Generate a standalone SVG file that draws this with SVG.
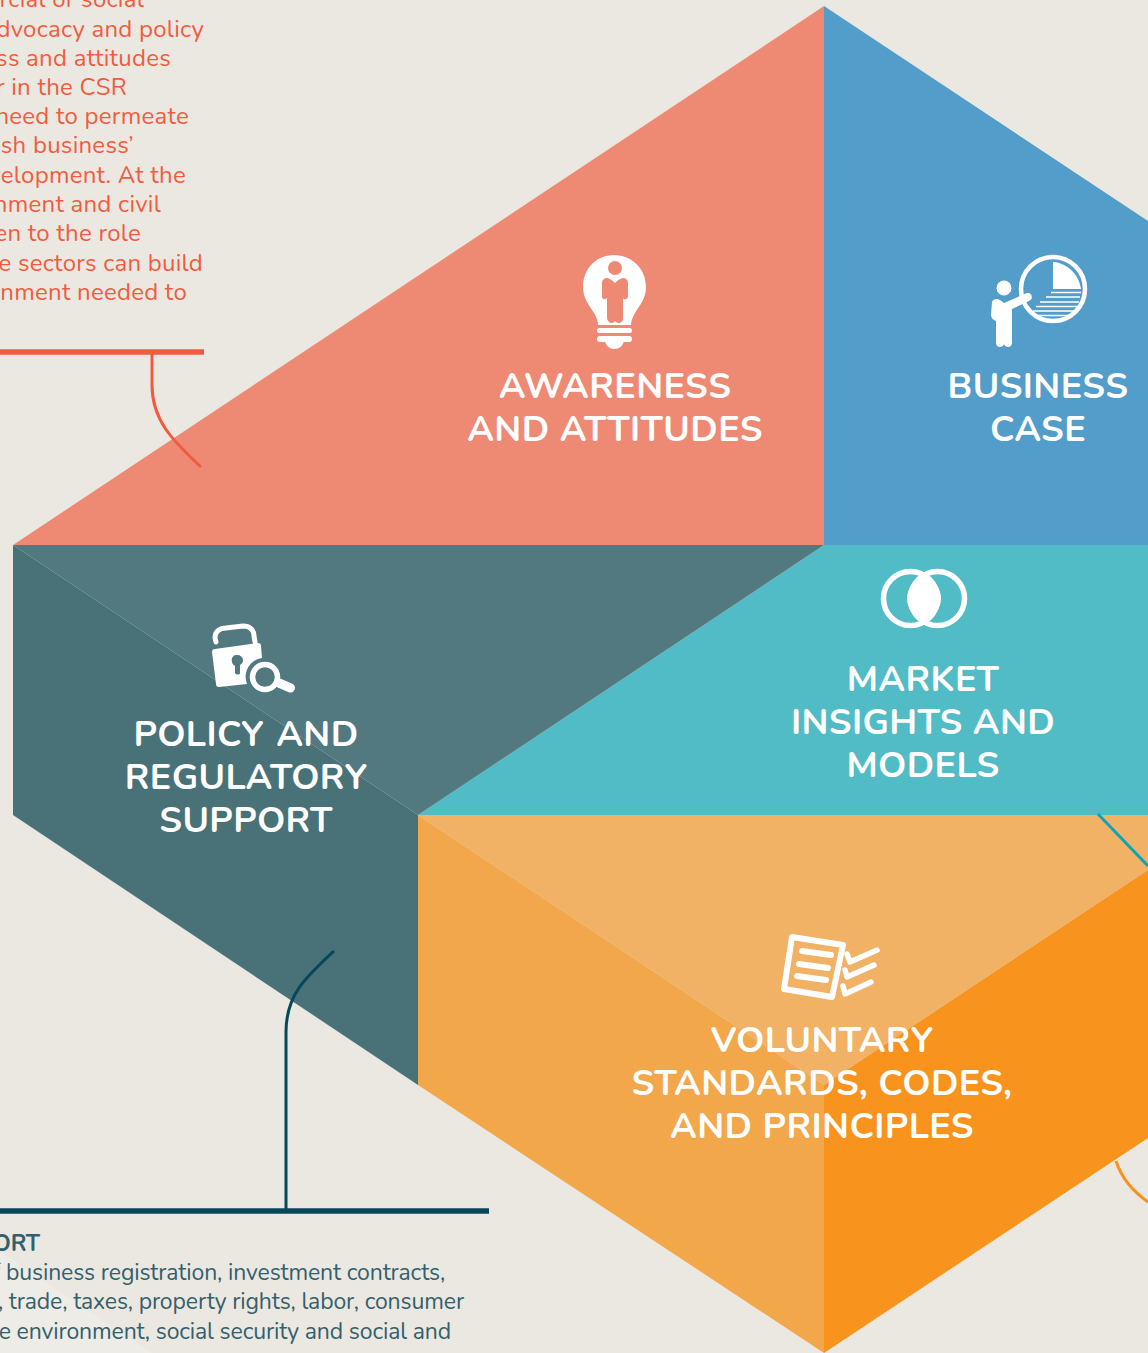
<svg xmlns="http://www.w3.org/2000/svg" width="1148" height="1353" viewBox="0 0 1148 1353">
<style>
.h{font-family:"Nunito","Lato","Noto Sans",sans-serif;font-weight:700;font-size:36px;fill:#fff;text-anchor:middle;letter-spacing:.4px}
.r{font-family:"Nunito","Lato","Noto Sans",sans-serif;font-size:24px;fill:#f15c40;text-anchor:end;letter-spacing:.25px}
.d{font-family:"Nunito","Lato","Noto Sans",sans-serif;font-size:23px;fill:#34606c;text-anchor:end;letter-spacing:-.13px}
.w{fill:#fff}
.o{fill:none;stroke:#fff}
</style>
<rect width="1148" height="1353" fill="#ebe8e1"/>
<polygon points="0,1251 152,1353 0,1353" fill="#eeece6"/>
<g id="node-awareness">
<polygon points="13,545 824,6 824,545" fill="#ee8974"/>
<g id="icon-bulb">
<path class="w" d="M614,255C596,255 583,269 583,287C583,298 589,305 594,313C597,318 598,322 598,325H631C631,322 632,318 635,313C640,305 646,298 646,287C646,269 632,255 614,255Z"/>
<circle cx="615" cy="268" r="7" fill="#ee8974"/>
<path fill="#ee8974" d="M604,279C606,277 610,278 615,283C620,278 624,277 626,279C628,280 628,282 628,285V296C628,300 624,300 623,298V318C623,324 617,324 615,321C613,324 608,324 607,318V298C605,300 602,300 602,296V285C602,282 602,280 604,279Z"/>
<rect class="w" x="597" y="328" width="35" height="5" rx="2.500"/>
<rect class="w" x="597" y="336" width="35" height="6" rx="3"/>
<path class="w" d="M605,341H624C623,346 619,349 614,349C610,349 606,346 605,341Z"/>
</g>
<text class="h" x="615" y="398" letter-spacing="0">AWARENESS</text>
<text class="h" x="615" y="441">AND ATTITUDES</text>
</g>
<g id="node-business">
<polygon points="824,6 1148,221 1148,545 824,545" fill="#529dc9"/>
<g id="icon-chart">
<circle class="o" cx="1053" cy="289" r="32" stroke-width="4.500"/>
<path class="w" d="M1053,262C1068,263 1079,275 1081,289H1053Z"/>
<path class="o" stroke-width="1.700" d="M1051,292.500H1081M1046,297H1080M1040,302H1079M1036,306.500H1079M1033,311H1075M1036,315.500H1069M1045,320H1060"/>
<circle class="w" cx="1004" cy="288" r="7.500"/>
<path class="w" d="M992,302C993,299 997,298 1000,300L1004,303L1027,293C1032,292 1034,299 1029,301L1012,309V343C1012,348 1005,348 1004,344C1003,348 996,348 996,343V321C993,320 991,318 991,315Z"/>
</g>
<text class="h" x="1038" y="398" letter-spacing="1">BUSINESS</text>
<text class="h" x="1038" y="441" letter-spacing="1.200">CASE</text>
</g>
<g id="node-market">
<polygon points="824,545 1148,545 1148,815 418,815" fill="#51bcc5"/>
<g id="icon-venn">
<circle class="o" cx="910.500" cy="598.500" r="27" stroke-width="5.500"/>
<circle class="o" cx="937.500" cy="598.500" r="27" stroke-width="5.500"/>
<path class="w" d="M924,573C935,581 941,589 941,598.500C941,608 935,616 924,624C913,616 907,608 907,598.500C907,589 913,581 924,573Z"/>
</g>
<text class="h" x="923" y="691">MARKET</text>
<text class="h" x="923" y="734">INSIGHTS AND</text>
<text class="h" x="923" y="777" letter-spacing="1.100">MODELS</text>
</g>
<g id="node-policy">
<polygon points="13,545 13,815 418,1085 418,815" fill="#497278"/>
<polygon points="13,545 824,545 418,815" fill="#52797f"/>
<g id="icon-lock">
<path class="o" stroke-width="5" stroke-linecap="round" d="M216,642L215,638C215,631 220,628 226,628L243,626C250,626 254,630 254,636L255,642"/>
<path class="w" fill-rule="evenodd" d="M212,652C212,650 213,649 215,649L258,643C260,643 261,644 261,646L262,658A19,19 0 0 0 247,684L219,687C217,687 216,686 216,684ZM237,655C233,655 231,658 232,662C232,664 234,665 235,666L235,673C236,675 240,675 240,673L240,665C242,664 243,662 243,660C243,657 240,655 237,655Z"/>
<circle class="o" cx="265" cy="677" r="12.500" stroke-width="5.500"/>
<path class="o" stroke-width="9" stroke-linecap="round" d="M279,683L290.500,688"/>
</g>
<text class="h" x="246" y="746" letter-spacing="1" word-spacing="2">POLICY AND</text>
<text class="h" x="246" y="789" letter-spacing="1.100">REGULATORY</text>
<text class="h" x="246" y="832" letter-spacing="1.200">SUPPORT</text>
</g>
<g id="node-voluntary">
<polygon points="418,815 1148,815 1148,870 824,1085" fill="#f2b266"/>
<polygon points="418,815 824,1085 824,1353 418,1085" fill="#f3a74b"/>
<polygon points="824,1085 1148,870 1148,1138 824,1353" fill="#f8931d"/>
<g id="icon-doc">
<polygon class="o" stroke-width="6" stroke-linejoin="round" points="792,937 843,945 832,997 784,989"/>
<path class="o" stroke-width="6" stroke-linecap="round" d="M802,951L831,955M799,964L828,968M797,976L826,980"/>
<path class="o" stroke-width="5.500" stroke-linecap="round" stroke-linejoin="round" d="M847,954L850,962L877,950M845,970L847,977L874,965M843,986L845,994L871,982"/>
</g>
<text class="h" x="822" y="1052">VOLUNTARY</text>
<text class="h" x="822" y="1095">STANDARDS, CODES,</text>
<text class="h" x="822" y="1138">AND PRINCIPLES</text>
</g>
<g id="connectors" fill="none">
<path stroke="#f15c40" stroke-width="5.500" d="M0,352H204"/>
<path stroke="#f15c40" stroke-width="3" d="M152,353V385C152,420 172,440 201,467"/>
<path stroke="#06485a" stroke-width="5.500" d="M0,1211H489"/>
<path stroke="#06485a" stroke-width="3" d="M286,1209V1032C286,995 305,978 334,951"/>
<path stroke="#0fa5b7" stroke-width="3" d="M1098,814L1148,866"/>
<path stroke="#f8931d" stroke-width="3" d="M1116,1161C1122,1180 1134,1192 1148,1202"/>
</g>
<g id="text-red">
<text class="r" x="144" y="7">rcial or social</text>
<text class="r" x="204" y="37">dvocacy and policy</text>
<text class="r" x="171" y="66">ss and attitudes</text>
<text class="r" x="127" y="95">r in the CSR</text>
<text class="r" x="189" y="124">need to permeate</text>
<text class="r" x="134" y="153">ash business’</text>
<text class="r" x="186" y="183">velopment. At the</text>
<text class="r" x="161" y="212">nment and civil</text>
<text class="r" x="141" y="241">en to the role</text>
<text class="r" x="203" y="271">e sectors can build</text>
<text class="r" x="187" y="300">nment needed to</text>
</g>
<g id="text-dark">
<text class="d" x="40" y="1251" style="font-weight:700">ORT</text>
<text class="d" x="445" y="1280">f business registration, investment contracts,</text>
<text class="d" x="464" y="1309">s, trade, taxes, property rights, labor, consumer</text>
<text class="d" x="451" y="1339">e environment, social security and social and</text>
</g>
</svg>
